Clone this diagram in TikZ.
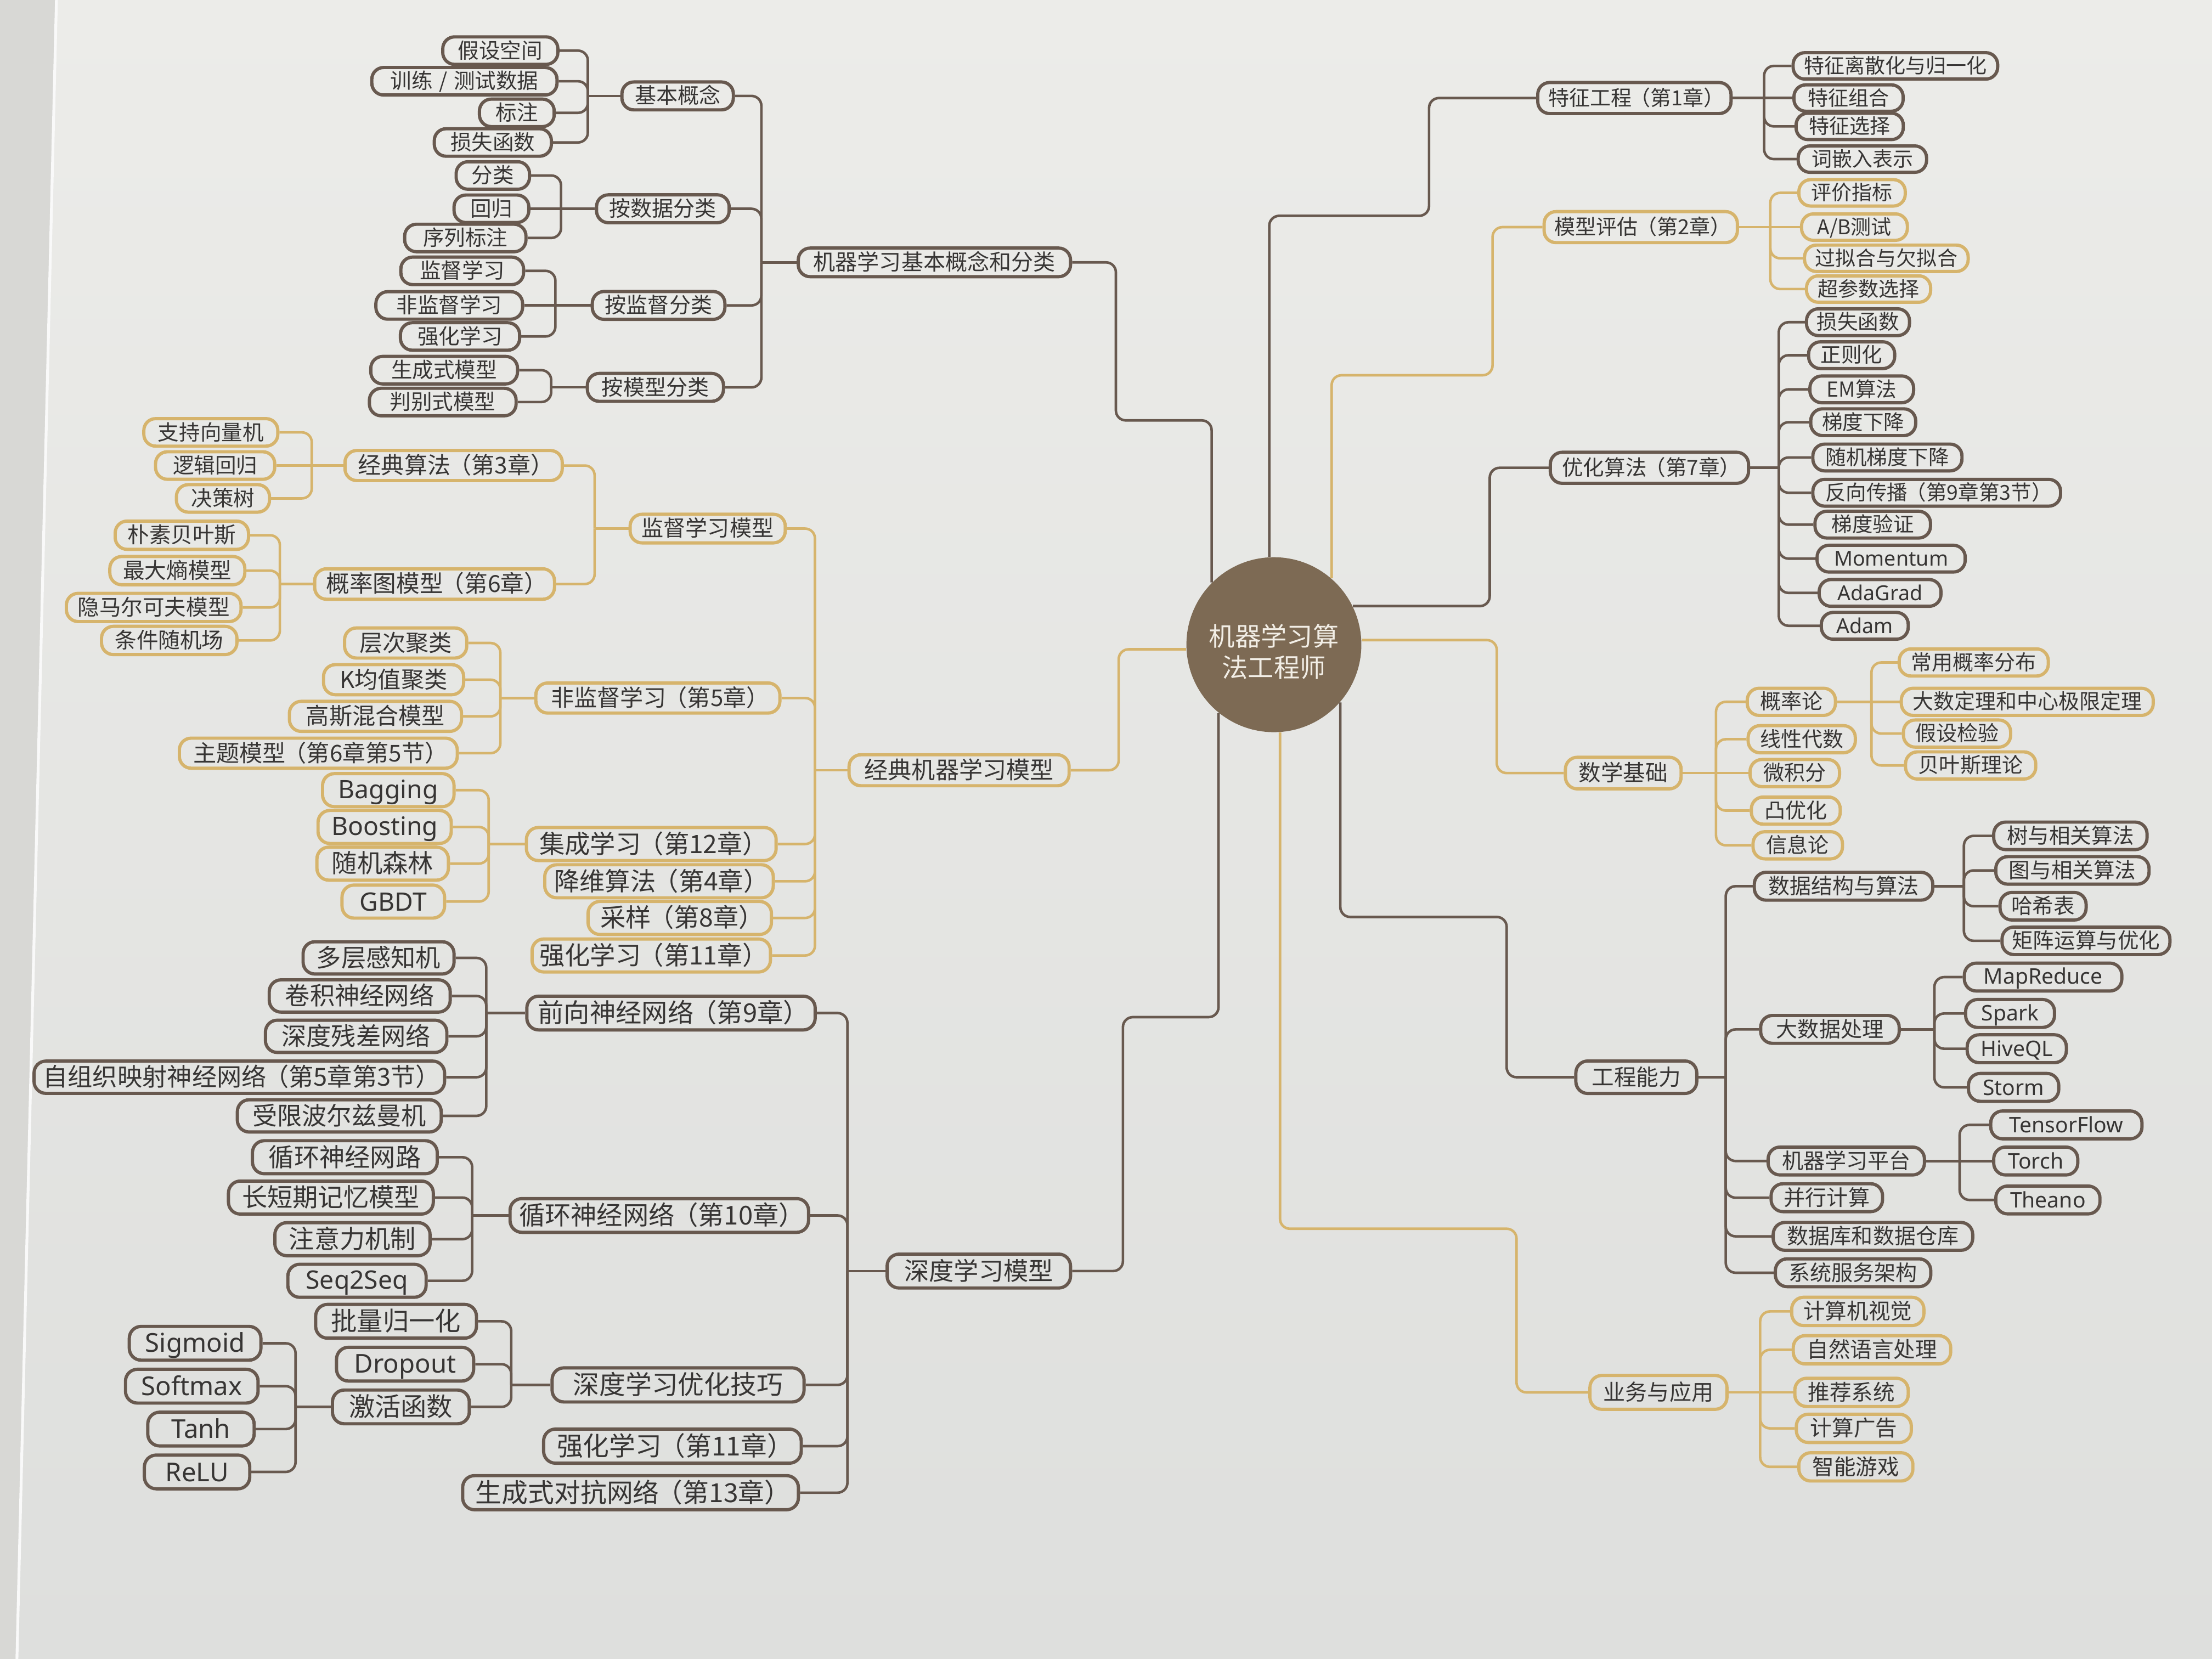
\documentclass[tikz,border=0pt]{standalone}
\usepackage{fontspec}
\setmainfont{Noto Sans CJK SC}
\newfontfamily\latf{Noto Sans}
\definecolor{bgtop}{RGB}{236,236,233}
\definecolor{bgbot}{RGB}{222,223,221}
\definecolor{pagec}{RGB}{216,216,213}
\definecolor{dkc}{RGB}{104,89,79}
\definecolor{gdc}{RGB}{214,180,108}
\definecolor{txtc}{RGB}{55,53,52}
\definecolor{ctrc}{RGB}{125,106,84}
\definecolor{ctrt}{RGB}{242,238,230}
\newcommand\Lpa{\kern-.1em（}
\newcommand\Rpa{）\kern-.2em}
\tikzset{
  bx/.style={rectangle, rounded corners=4.2pt, line width=1.15pt, text=txtc, inner xsep=2pt, inner ysep=0pt},
  dk/.style={bx, draw=dkc},
  gd/.style={bx, draw=gdc},
  fs/.style={font=\fontsize{#1pt}{#1pt}\selectfont, minimum height={1.3*#1pt},
    execute at begin node={\rule[-0.18em]{0pt}{1.08em}}},
  mh/.style={minimum height=#1pt},
  w/.style={minimum width={#1*0.5pt}},
  L/.style={anchor=east},
  R/.style={anchor=west},
  cd/.style={draw=dkc, line width=0.9pt},
  cg/.style={draw=gdc, line width=0.9pt},
  ctr/.style={circle, fill=ctrc, inner sep=0pt, minimum size=62pt},
  ctrtext/.style={text=ctrt, align=center, inner sep=0pt, font=\fontsize{9.2pt}{11pt}\selectfont},
}
\newcommand\grpL[4]{%
  \draw[#1] (#2.west) -- ++(-#3,0) coordinate (#2T);
  \foreach \cc in {#4}{\draw[#1,rounded corners=3.5pt] (#2T) |- (\cc.east);}%
}
\newcommand\grpR[4]{%
  \draw[#1] (#2.east) -- ++(#3,0) coordinate (#2T);
  \foreach \cc in {#4}{\draw[#1,rounded corners=3.5pt] (#2T) |- (\cc.west);}%
}
\begin{document}
\begin{tikzpicture}[x=0.5pt,y=-0.5pt]
\useasboundingbox (0,0) rectangle (1568,1176);
\shade[top color=bgtop, bottom color=bgbot] (0,0) rectangle (1568,1176);
\fill[pagec] (0,0) -- (40,0) -- (12,1176) -- (0,1176) -- cycle;
\draw[white!85!pagec, line width=1pt] (40,0) -- (12,1176);

% ---------- centre
\node[ctr] (C) at (903,457) {};
\node[ctrtext] (Ct) at (903,462) {机器学习算\\法工程师};

% ---------- left: 机器学习基本概念和分类
\node[dk,fs=7.8,w=193,L] (L1) at (760,186) {机器学习基本概念和分类};
\node[dk,fs=7.6,w=79,L] (a1) at (521,68) {基本概念};
\node[dk,fs=7.6,w=94,L] (a2) at (518,148) {按数据分类};
\node[dk,fs=7.6,w=94,L] (a3) at (515,216.5) {按监督分类};
\node[dk,fs=7.6,w=96.5,L] (a4) at (514,274.6) {按模型分类};
\node[dk,fs=7.5,w=81.6,L] (a11) at (396.6,35.9) {假设空间};
\node[dk,fs=7.5,w=131.3,L] (a12) at (396,57.6) {训练\hspace{0.3em}/\hspace{0.3em}测试数据};
\node[dk,fs=7.5,w=53,L] (a13) at (394,80) {标注};
\node[dk,fs=7.5,w=83,L] (a14) at (392,101) {损失函数};
\node[dk,fs=7.5,w=52,L] (a21) at (376.5,124.4) {分类};
\node[dk,fs=7.5,w=53,L] (a22) at (376,148) {回归};
\node[dk,fs=7.5,w=86,L] (a23) at (374,168.7) {序列标注};
\node[dk,fs=7.5,w=87,L] (a31) at (372.3,192) {监督学习};
\node[dk,fs=7.5,w=104,L] (a32) at (371.6,216.5) {非监督学习};
\node[dk,fs=7.5,w=84.5,L] (a33) at (369.5,238.5) {强化学习};
\node[dk,fs=7.5,w=104,L] (a41) at (368,262.4) {生成式模型};
\node[dk,fs=7.5,w=104,L] (a42) at (367,285) {判别式模型};

% ---------- left: 经典机器学习模型
\node[gd,fs=8.4,w=156,L,mh=11] (L2) at (759,546) {经典机器学习模型};
\node[gd,fs=7.8,w=110,L] (b1) at (557.8,374.7) {监督学习模型};
\node[gd,fs=8.2,w=173,L] (b2) at (554,494.8) {非监督学习\Lpa 第5章\Rpa};
\node[gd,fs=9,w=177,L] (b3) at (551.3,598.3) {集成学习\Lpa 第12章\Rpa};
\node[gd,fs=9,w=162,L] (b4) at (549.3,624.7) {降维算法\Lpa 第4章\Rpa};
\node[gd,fs=9,w=130,L] (b5) at (548,650.7) {采样\Lpa 第8章\Rpa};
\node[gd,fs=9,w=169,L] (b6) at (547.3,677.3) {强化学习\Lpa 第11章\Rpa};
\node[gd,fs=8.2,w=154,L] (b11) at (399.7,330) {经典算法\Lpa 第3章\Rpa};
\node[gd,fs=8.3,w=170,L] (b12) at (394.2,414) {概率图模型\Lpa 第6章\Rpa};
\node[gd,fs=7.5,w=95,L] (b111) at (198.1,306.5) {支持向量机};
\node[gd,fs=7.5,w=84.5,L] (b112) at (195.9,330) {逻辑回归};
\node[gd,fs=7.5,w=66,L] (b113) at (192.2,353.3) {决策树};
\node[gd,fs=7.7,w=94.5,L] (b121) at (177.3,379.4) {朴素贝叶斯};
\node[gd,fs=7.7,w=95.7,L] (b122) at (174.7,404.5) {最大熵模型};
\node[gd,fs=7.7,w=123.8,L] (b123) at (172,430.6) {隐马尔可夫模型};
\node[gd,fs=7.7,w=96,L] (b124) at (169.1,454) {条件随机场};
\node[gd,fs=8.2,w=86.6,L] (b21) at (332,455.8) {层次聚类};
\node[gd,fs=8.2,w=99.3,L] (b22) at (329.8,481.8) {K均值聚类};
\node[gd,fs=8.2,w=122,L] (b23) at (328.3,507.8) {高斯混合模型};
\node[gd,fs=8.2,w=197,L] (b24) at (325.3,533.9) {主题模型\Lpa 第6章第5节\Rpa};
\node[gd,fs=9,w=93.2,L] (b31) at (323,560.1) {\latf Bagging};
\node[gd,fs=9,w=94.4,L] (b32) at (321,586.2) {\latf Boosting};
\node[gd,fs=9,w=93.2,L] (b33) at (319,612.2) {随机森林};
\node[gd,fs=9,w=72.7,L] (b34) at (316.3,639.1) {\latf GBDT};

% ---------- left: 深度学习模型
\node[dk,fs=8.8,w=130,L,mh=12] (L3) at (760,901) {深度学习模型};
\node[dk,fs=9.2,w=204.4,L] (c1) at (579,718.1) {前向神经网络\Lpa 第9章\Rpa};
\node[dk,fs=9.2,w=211.6,L] (c2) at (574.3,861.6) {循环神经网络\Lpa 第10章\Rpa};
\node[dk,fs=9.3,w=178.6,L] (c3) at (571.1,981.7) {深度学习优化技巧};
\node[dk,fs=9.3,w=182.6,L] (c4) at (569.1,1025.1) {强化学习\Lpa 第11章\Rpa};
\node[dk,fs=9.3,w=238,L] (c5) at (567.1,1058.1) {生成式对抗网络\Lpa 第13章\Rpa};
\node[dk,fs=8.8,w=107,L] (c11) at (323,679) {多层感知机};
\node[dk,fs=8.8,w=128.3,L] (c12) at (320.3,706) {卷积神经网络};
\node[dk,fs=8.8,w=128.6,L] (c13) at (317.9,734.6) {深度残差网络};
\node[dk,fs=8.8,w=291,L] (c14) at (316.3,763.6) {自组织映射神经网络\Lpa 第5章第3节\Rpa};
\node[dk,fs=8.8,w=144.5,L] (c15) at (313.9,791) {受限波尔兹曼机};
\node[dk,fs=9,w=131,L] (c21) at (311.1,820.3) {循环神经网路};
\node[dk,fs=9,w=145.2,L] (c22) at (308.3,848.9) {长短期记忆模型};
\node[dk,fs=9,w=110,L] (c23) at (306,878.4) {注意力机制};
\node[dk,fs=9,w=98,L] (c24) at (303.2,907.9) {\latf Seq2Seq};
\node[dk,fs=9.2,w=114,L] (c31) at (338.9,936.6) {批量归一化};
\node[dk,fs=9.2,w=97.2,L] (c32) at (336.9,967) {\latf Dropout};
\node[dk,fs=9.2,w=97,L] (c33) at (333.8,997.3) {激活函数};
\node[dk,fs=9.2,w=93.3,L] (c331) at (186.1,952.2) {\latf Sigmoid};
\node[dk,fs=9.2,w=94,L] (c332) at (184.1,982.6) {\latf Softmax};
\node[dk,fs=9.2,w=75.4,L] (c333) at (181.3,1013) {\latf Tanh};
\node[dk,fs=9.2,w=74.7,L] (c334) at (178.2,1043.4) {\latf ReLU};

% ---------- right: 特征工程
\node[dk,fs=7.4,w=137,R,mh=11] (R1) at (1088.9,69.5) {特征工程\Lpa 第1章\Rpa};
\node[dk,fs=7.2,w=145,R] (d1) at (1269.9,46.7) {特征离散化与归一化};
\node[dk,fs=7.2,w=77.4,R] (d2) at (1270.5,69.5) {特征组合};
\node[dk,fs=7.2,w=76,R] (d3) at (1272,89.6) {特征选择};
\node[dk,fs=7.2,w=91,R] (d4) at (1273.5,112.8) {词嵌入表示};

% ---------- right: 模型评估
\node[gd,fs=7.4,w=137,R,mh=11] (R2) at (1093.4,161) {模型评估\Lpa 第2章\Rpa};
\node[gd,fs=7.2,w=75.4,R] (e1) at (1274,136.7) {评价指标};
\node[gd,fs=7.2,w=75,R] (e2) at (1275.9,161) {A/B测试};
\node[gd,fs=7.2,w=116,R] (e3) at (1278,183.1) {过拟合与欠拟合};
\node[gd,fs=7.2,w=88,R] (e4) at (1279.4,204.9) {超参数选择};

% ---------- right: 优化算法
\node[dk,fs=7.5,w=140.5,R,mh=11] (R3) at (1097.8,331.6) {优化算法\Lpa 第7章\Rpa};
\node[dk,fs=7.3,w=73,R] (f1) at (1279.4,228.4) {损失函数};
\node[dk,fs=7.3,w=61,R] (f2) at (1280.9,251.8) {正则化};
\node[dk,fs=7.3,w=73.5,R] (f3) at (1281.8,276) {EM算法};
\node[dk,fs=7.3,w=74.4,R] (f4) at (1282.4,299.3) {梯度下降};
\node[dk,fs=7.3,w=105.7,R] (f5) at (1283.9,324.3) {随机梯度下降};
\node[dk,fs=7.3,w=175.6,R] (f6) at (1283.9,349.3) {反向传播\Lpa 第9章第3节\Rpa};
\node[dk,fs=7.3,w=81.9,R] (f7) at (1285.4,371.9) {梯度验证};
\node[dk,fs=7.3,w=105,R] (f8) at (1286.9,396) {\latf Momentum};
\node[dk,fs=7.3,w=86.3,R] (f9) at (1288.4,420.3) {\latf AdaGrad};
\node[dk,fs=7.3,w=61.6,R] (f10) at (1289.9,443.6) {\latf Adam};

% ---------- right: 数学基础
\node[gd,fs=7.9,w=82,R,mh=11.2] (R4) at (1108.5,548) {数学基础};
\node[gd,fs=7.4,w=62.5,R] (g1) at (1237.4,497.5) {概率论};
\node[gd,fs=7.4,w=76,R] (g2) at (1238,524) {线性代数};
\node[gd,fs=7.4,w=63.4,R] (g3) at (1239.4,548) {微积分};
\node[gd,fs=7.4,w=63,R] (g4) at (1240.3,574.6) {凸优化};
\node[gd,fs=7.4,w=63.4,R] (g5) at (1241.5,599.2) {信息论};
\node[gd,fs=7.4,w=105.7,R] (g11) at (1345.1,469.6) {常用概率分布};
\node[gd,fs=7.4,w=178.6,R] (g12) at (1346.6,497.5) {大数定理和中心极限定理};
\node[gd,fs=7.4,w=76,R] (g13) at (1348.1,520) {假设检验};
\node[gd,fs=7.4,w=92.3,R] (g14) at (1349.6,542.6) {贝叶斯理论};

% ---------- right: 工程能力
\node[dk,fs=7.9,w=85.7,R,mh=11.5] (R5) at (1115.9,763.6) {工程能力};
\node[dk,fs=7.6,w=126.5,R] (h1) at (1242.4,628.2) {数据结构与算法};
\node[dk,fs=7.6,w=98.2,R] (h2) at (1246.9,729.7) {大数据处理};
\node[dk,fs=7.6,w=110.8,R] (h3) at (1252.2,823) {机器学习平台};
\node[dk,fs=7.6,w=79,R] (h4) at (1254.3,849) {并行计算};
\node[dk,fs=7.6,w=141.4,R] (h5) at (1255.8,876.4) {数据库和数据仓库};
\node[dk,fs=7.6,w=110.2,R] (h6) at (1257.3,902.2) {系统服务架构};
\node[dk,fs=7.5,w=108.7,R] (h11) at (1412.1,592.5) {树与相关算法};
\node[dk,fs=7.5,w=108.6,R] (h12) at (1413.6,617) {图与相关算法};
\node[dk,fs=7.5,w=61,R] (h13) at (1416.6,642.4) {哈希表};
\node[dk,fs=7.5,w=119,R] (h14) at (1418,666.9) {矩阵运算与优化};
\node[dk,fs=7.6,w=111.6,R] (h21) at (1391.3,692.6) {\latf MapReduce};
\node[dk,fs=7.6,w=63,R] (h22) at (1392.2,718.4) {\latf Spark};
\node[dk,fs=7.6,w=70.3,R] (h23) at (1393.3,743.4) {\latf HiveQL};
\node[dk,fs=7.6,w=64,R] (h24) at (1394.2,770.8) {\latf Storm};
\node[dk,fs=7.6,w=107.2,R] (h31) at (1410,797.4) {\latf TensorFlow};
\node[dk,fs=7.6,w=59.6,R] (h32) at (1412.1,823) {\latf Torch};
\node[dk,fs=7.6,w=73.8,R] (h33) at (1413.6,850.6) {\latf Theano};

% ---------- right: 业务与应用
\node[gd,fs=7.8,w=97.1,R,mh=12] (R6) at (1125.9,987) {业务与应用};
\node[gd,fs=7.7,w=93.7,R] (i1) at (1268.9,929.6) {计算机视觉};
\node[gd,fs=7.7,w=111.6,R] (i2) at (1270,956.8) {自然语言处理};
\node[gd,fs=7.7,w=80.4,R] (i3) at (1271.1,987) {推荐系统};
\node[gd,fs=7.7,w=81.5,R] (i4) at (1272.2,1012.5) {计算广告};
\node[gd,fs=7.7,w=80.8,R] (i5) at (1274,1039.8) {智能游戏};

% ---------- main connectors from the centre
\draw[cd, rounded corners=3.5pt] (L1.east) -| (791,298) -| (C.135);
\draw[cg, rounded corners=3.5pt] (C.183) -| (793,546) -- (L2.east);
\draw[cd, rounded corners=3.5pt] (C.231) |- (796,721) |- (L3.east);
\draw[cd, rounded corners=3.5pt] (C.93) |- (1013,153) |- (R1.west);
\draw[cg, rounded corners=3.5pt] (C.49) |- (1058,266) |- (R2.west);
\draw[cd, rounded corners=3.5pt] (C.26) -| (1056,331.6) -- (R3.west);
\draw[cg, rounded corners=3.5pt] (C.3) -| (1061,548) -- (R4.west);
\draw[cd, rounded corners=3.5pt] (C.319) |- (1068,650) |- (R5.west);
\draw[cg, rounded corners=3.5pt] (C.274) |- (1075,871) |- (R6.west);

% ---------- group connectors, left
\grpL{cd}{L1}{25}{a1,a2,a3,a4}
\grpL{cd}{a1}{23}{a11,a12,a13,a14}
\grpL{cd}{a2}{24}{a21,a23}
\draw[cd] (a2T) -- (a22.east);
\grpL{cd}{a3}{25}{a31,a33}
\draw[cd] (a3T) -- (a32.east);
\grpL{cd}{a4}{24.5}{a41,a42}

\grpL{cg}{L2}{23}{b1,b2,b3,b4,b5,b6}
\grpL{cg}{b1}{24}{b11,b12}
\grpL{cg}{b11}{22.4}{b111,b113}
\draw[cg] (b11T) -- (b112.east);
\grpL{cg}{b12}{23.5}{b121,b122,b123,b124}
\grpL{cg}{b2}{24}{b21,b22,b23,b24}
\grpL{cg}{b3}{25.6}{b31,b32,b33,b34}

\grpL{cd}{L3}{27}{c1,c2,c3,c4,c5}
\grpL{cd}{c1}{27.6}{c11,c12,c13,c14,c15}
\grpL{cd}{c2}{25.7}{c21,c22,c23,c24}
\grpL{cd}{c3}{27.8}{c31,c32,c33}
\grpL{cd}{c33}{25}{c331,c332,c333,c334}

% ---------- group connectors, right
\grpR{cd}{R1}{22.3}{d1,d3,d4}
\draw[cd] (R1T) -- (d2.west);
\grpR{cg}{R2}{22.2}{e1,e3,e4}
\draw[cg] (R2T) -- (e2.west);
\grpR{cd}{R3}{20.3}{f1,f2,f3,f4,f5,f6,f7,f8,f9,f10}
\grpR{cg}{R4}{23.6}{g1,g2,g4,g5}
\draw[cg] (R4T) -- (g3.west);
\grpR{cg}{g1}{24.4}{g11,g13,g14}
\draw[cg] (g1T) -- (g12.west);
\grpR{cd}{R5}{19.4}{h1,h2,h3,h4,h5,h6}
\grpR{cd}{h1}{20.9}{h11,h12,h13,h14}
\grpR{cd}{h2}{23.8}{h21,h22,h23,h24}
\grpR{cd}{h3}{23.8}{h31,h33}
\draw[cd] (h3T) -- (h32.west);
\grpR{cg}{R6}{22.4}{i1,i2,i4,i5}
\draw[cg] (R6T) -- (i3.west);
\end{tikzpicture}
\end{document}
